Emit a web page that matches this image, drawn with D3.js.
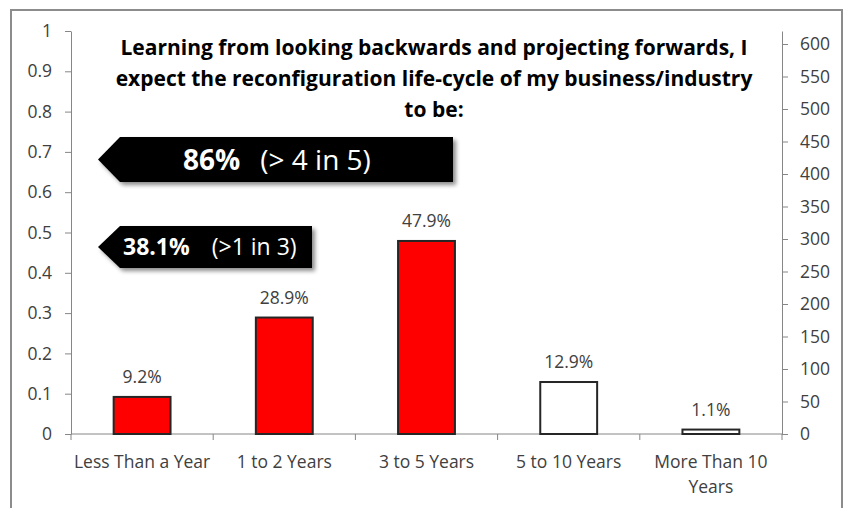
<!DOCTYPE html>
<html>
<head>
<meta charset="utf-8">
<script src="https://cdn.jsdelivr.net/npm/d3@7"></script>
<style>
    body { margin: 0; background: #fff; }
    svg text { font-family: "Open Sans", Lato, sans-serif; }
</style>
</head>
<body>
<div class="chart"></div>
<script>
// Chart data
const categories = ["Less Than a Year", "1 to 2 Years", "3 to 5 Years", "5 to 10 Years", "More Than 10 Years"];
const shares = [0.092, 0.289, 0.479, 0.129, 0.011];
const highlighted = [true, true, true, false, false];
const leftTicks = [0, 0.1, 0.2, 0.3, 0.4, 0.5, 0.6, 0.7, 0.8, 0.9, 1];
const rightTicks = [0, 50, 100, 150, 200, 250, 300, 350, 400, 450, 500, 550, 600];
const titleLines = [
    "Learning from looking backwards and projecting forwards, I",
    "expect the reconfiguration life-cycle of my business/industry",
    "to be:"
];
const calloutBold = ["86%", "38.1%"];
const calloutRest = ["(> 4 in 5)", "(>1 in 3)"];

const data = categories.map((c, i) => ({ category: c, value: shares[i], red: highlighted[i] }));

// Overall size and plot area
const W = 851, H = 508;
const plot = { left: 71, right: 782, top: 31, bottom: 434 };

const svg = d3.select(".chart")
    .append("svg")
    .attr("width", W)
    .attr("height", H);

// drop shadow for the arrow callouts
const defs = svg.append("defs");
defs.append("filter")
    .attr("id", "shadow")
    .attr("x", "-10%").attr("y", "-20%")
    .attr("width", "130%").attr("height", "160%")
  .append("feDropShadow")
    .attr("dx", 3).attr("dy", 3)
    .attr("stdDeviation", 2)
    .attr("flood-color", "#000")
    .attr("flood-opacity", 0.45);

// chart frame
svg.append("rect")
    .attr("x", 11).attr("y", 10)
    .attr("width", 831).attr("height", 520)
    .attr("fill", "none")
    .attr("stroke", "#8c8c8c")
    .attr("stroke-width", 2);

// Scales
const x = d3.scaleBand()
    .domain(categories)
    .range([plot.left, plot.right])
    .paddingInner(0.6)
    .paddingOuter(0.3);

const xSlots = d3.scaleBand()
    .domain(categories)
    .range([plot.left, plot.right]);

const y = d3.scaleLinear()
    .domain([0, 1])
    .range([plot.bottom, plot.top]);

const y2 = d3.scaleLinear()
    .domain([0, 620])
    .range([plot.bottom, plot.top]);

const axisColor = "#868686";
const labelColor = "#404040";
const labelSize = "17.5px";

// Left axis
const leftAxis = svg.append("g")
    .attr("transform", `translate(${plot.left}, 0)`)
    .call(d3.axisLeft(y).tickValues(leftTicks).tickSize(6).tickPadding(13).tickFormat(d => String(d)).tickSizeOuter(0));

// Right axis
const rightAxis = svg.append("g")
    .attr("transform", `translate(${plot.right}, 0)`)
    .call(d3.axisRight(y2).tickValues(rightTicks).tickSize(6).tickPadding(12).tickSizeOuter(0));

[leftAxis, rightAxis].forEach(a => {
    a.select(".domain").attr("stroke", axisColor);
    a.selectAll(".tick line").attr("stroke", axisColor);
    a.selectAll(".tick text")
        .attr("fill", labelColor)
        .style("font-size", labelSize);
});

// X axis line with ticks on the category boundaries
const xAxis = svg.append("g");
xAxis.append("line")
    .attr("x1", plot.left).attr("x2", plot.right)
    .attr("y1", plot.bottom).attr("y2", plot.bottom)
    .attr("stroke", axisColor);

const boundaries = categories.map(c => xSlots(c)).concat([plot.right]);
xAxis.selectAll(".xtick")
    .data(boundaries)
    .enter()
    .append("line")
        .attr("class", "xtick")
        .attr("x1", d => d).attr("x2", d => d)
        .attr("y1", plot.bottom).attr("y2", plot.bottom + 6)
        .attr("stroke", axisColor);

// category labels, wrapped into the slot width
const catLabels = xAxis.selectAll(".xlabel")
    .data(categories)
    .enter()
    .append("text")
        .attr("class", "xlabel")
        .attr("x", d => x(d) + x.bandwidth() / 2)
        .attr("y", 468)
        .attr("text-anchor", "middle")
        .attr("fill", labelColor)
        .style("font-size", labelSize);

catLabels.each(function(d) {
    const t = d3.select(this);
    const words = d.split(" ");
    let line = [];
    let tspan = t.append("tspan").attr("x", t.attr("x")).attr("dy", 0);
    words.forEach(w => {
        line.push(w);
        tspan.text(line.join(" "));
        if (tspan.node().getComputedTextLength() > xSlots.step() && line.length > 1) {
            line.pop();
            tspan.text(line.join(" "));
            line = [w];
            tspan = t.append("tspan").attr("x", t.attr("x")).attr("dy", 25).text(w);
        }
    });
});

// Bars
svg.selectAll(".bar")
    .data(data)
    .enter()
    .append("rect")
        .attr("class", "bar")
        .attr("x", d => x(d.category))
        .attr("y", d => y(d.value))
        .attr("width", x.bandwidth())
        .attr("height", d => plot.bottom - y(d.value))
        .attr("fill", d => d.red ? "#ff0000" : "#ffffff")
        .attr("stroke", "#262626")
        .attr("stroke-width", 2);

// Value labels
svg.selectAll(".value")
    .data(data)
    .enter()
    .append("text")
        .attr("class", "value")
        .attr("x", d => x(d.category) + x.bandwidth() / 2)
        .attr("y", d => y(d.value) - 14)
        .attr("text-anchor", "middle")
        .attr("fill", labelColor)
        .style("font-size", labelSize)
        .text(d => d3.format(".1%")(d.value));

// Title
svg.append("text")
    .attr("text-anchor", "middle")
    .style("font-size", "21px")
    .style("font-weight", "bold")
    .attr("fill", "#000")
    .selectAll("tspan")
    .data(titleLines)
    .enter()
    .append("tspan")
        .attr("x", 434)
        .attr("y", (d, i) => 55 + i * 31)
        .text(d => d);

// Arrow callouts (left pointing)
const callouts = [
    { top: 137, bottom: 182, tip: 98, notch: 120, right: 453, textX: 183, size: 28, gap: 20 },
    { top: 226, bottom: 268, tip: 98, notch: 120, right: 312, textX: 123, size: 23, gap: 22 }
];

callouts.forEach((c, i) => {
    const mid = (c.top + c.bottom) / 2;
    svg.append("path")
        .attr("d", `M${c.tip},${mid} L${c.notch},${c.top} L${c.right},${c.top} L${c.right},${c.bottom} L${c.notch},${c.bottom} Z`)
        .attr("fill", "#000")
        .attr("filter", "url(#shadow)");

    const t = svg.append("text")
        .attr("x", c.textX)
        .attr("y", mid)
        .attr("dy", "0.36em")
        .attr("fill", "#fff")
        .style("font-size", c.size + "px");
    t.append("tspan").style("font-weight", "bold").text(calloutBold[i]);
    t.append("tspan").attr("dx", c.gap).text(calloutRest[i]);
});
</script>
</body>
</html>
